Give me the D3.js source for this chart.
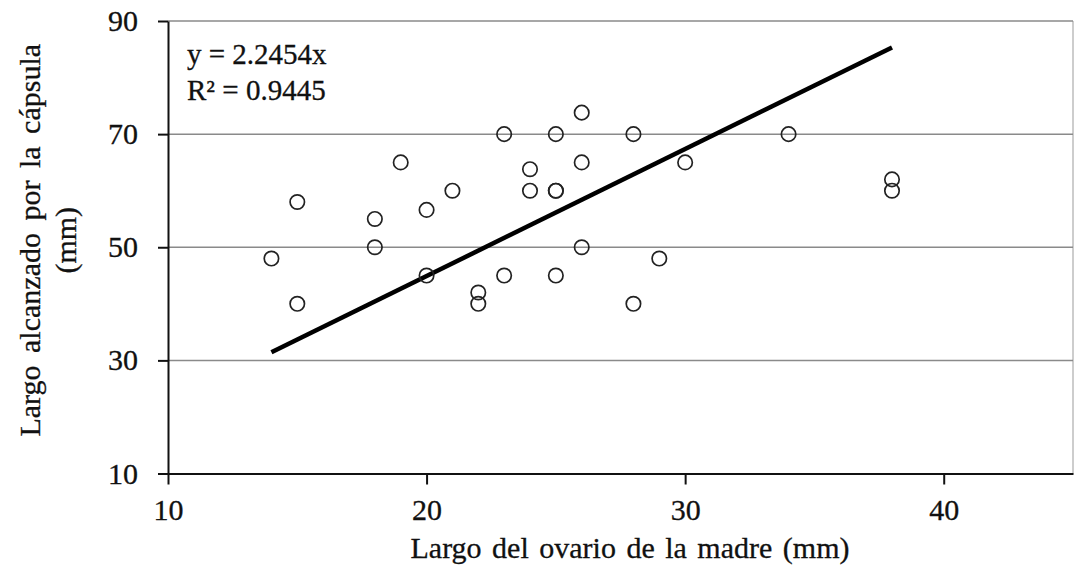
<!DOCTYPE html>
<html>
<head>
<meta charset="utf-8">
<script src="https://cdn.jsdelivr.net/npm/d3@7"></script>
<style>
    body { margin: 0; background: #fff; }
    svg text { font-family: "Liberation Serif", "Times New Roman", serif; fill: #111; stroke: #111; stroke-width: 0.3; }
</style>
</head>
<body>
<div id="chart-container"></div>
<script>
// values
const ovario = [14, 15, 15, 18, 18, 19, 20, 20, 21, 22, 22, 23, 23, 24, 24, 25, 25, 25, 25, 26, 26, 26, 28, 28, 29, 30, 34, 38, 38];
const capsula = [48, 58, 40, 55, 50, 65, 56.6, 45, 60, 42, 40, 70, 45, 63.8, 60, 70, 60, 60, 45, 73.8, 65, 50, 70, 40, 48, 65, 70, 62, 60];
const slope = 2.2454;
const equationLines = ["y = 2.2454x", "R² = 0.9445"];
const xTicks = [10, 20, 30, 40];
const yTicks = [10, 30, 50, 70, 90];

let width = 1074;
let height = 576;
let margin = ({top: 21, right: 1, bottom: 102.5, left: 168});

const data = ovario.map((x, i) => ({x, y: capsula[i]}));

const x = d3.scaleLinear()
    .domain([10, 45])
    .range([margin.left, width - margin.right]);

const y = d3.scaleLinear()
    .domain([10, 90])
    .range([height - margin.bottom, margin.top]);

const svg = d3.select("#chart-container")
    .append("svg")
    .attr("width", width)
    .attr("height", height);

// right border of the plot area
svg.append("line")
    .attr("x1", x(45)).attr("x2", x(45))
    .attr("y1", y(90)).attr("y2", y(10))
    .attr("stroke", "#bdbdbd")
    .attr("stroke-width", 1.5);

// horizontal gridlines
svg.append("g")
    .selectAll("line")
    .data(yTicks.filter(d => d > 10))
    .join("line")
    .attr("x1", x(10))
    .attr("x2", x(45))
    .attr("y1", d => y(d))
    .attr("y2", d => y(d))
    .attr("stroke", "#8a8a8a")
    .attr("stroke-width", 1.5);

const xAxis = g => g
    .attr("transform", `translate(0,${y(10)})`)
    .call(d3.axisBottom(x).tickValues(xTicks).tickSize(11).tickPadding(14).tickSizeOuter(0))
    .call(g => g.selectAll("path, line").attr("stroke", "#111").attr("stroke-width", 2))
    .call(g => g.selectAll("text").attr("font-size", 30).style("font-family", "Liberation Serif"));

const yAxis = g => g
    .attr("transform", `translate(${x(10)},0)`)
    .call(d3.axisLeft(y).tickValues(yTicks).tickSize(10).tickPadding(20).tickSizeOuter(0))
    .call(g => g.selectAll("path, line").attr("stroke", "#111").attr("stroke-width", 2))
    .call(g => g.selectAll("text").attr("font-size", 30).style("font-family", "Liberation Serif"));

svg.append("g").attr("class", "x-axis").call(xAxis);
svg.append("g").attr("class", "y-axis").call(yAxis);

// trend line through the origin, over the range of the data
const xExtent = d3.extent(ovario);
svg.append("line")
    .attr("x1", x(xExtent[0]))
    .attr("y1", y(slope * xExtent[0]))
    .attr("x2", x(xExtent[1]))
    .attr("y2", y(slope * xExtent[1]))
    .attr("stroke", "#000")
    .attr("stroke-width", 4.5);

// points
svg.append("g")
    .selectAll("circle")
    .data(data)
    .join("circle")
    .attr("cx", d => x(d.x))
    .attr("cy", d => y(d.y))
    .attr("r", 7.2)
    .attr("fill", "none")
    .attr("stroke", "#222")
    .attr("stroke-width", 1.7);

// equation
svg.append("text")
    .attr("x", 187)
    .attr("y", 64)
    .attr("font-size", 29)
    .selectAll("tspan")
    .data(equationLines)
    .join("tspan")
    .attr("x", 187)
    .attr("dy", (d, i) => i === 0 ? 0 : 36)
    .text(d => d);

// axis titles
svg.append("text")
    .attr("x", 630)
    .attr("y", 558)
    .attr("text-anchor", "middle")
    .attr("font-size", 30)
    .attr("word-spacing", 3)
    .text("Largo del ovario de la madre (mm)");

const yTitle = svg.append("text")
    .attr("transform", `translate(40,${(y(10) + y(90)) / 2 - 7}) rotate(-90)`)
    .attr("text-anchor", "middle")
    .attr("font-size", 30)
    .attr("word-spacing", 5);
yTitle.append("tspan").attr("x", 0).attr("dy", 0).text("Largo alcanzado por la cápsula");
yTitle.append("tspan").attr("x", 0).attr("dy", 36).text("(mm)");
</script>
</body>
</html>
